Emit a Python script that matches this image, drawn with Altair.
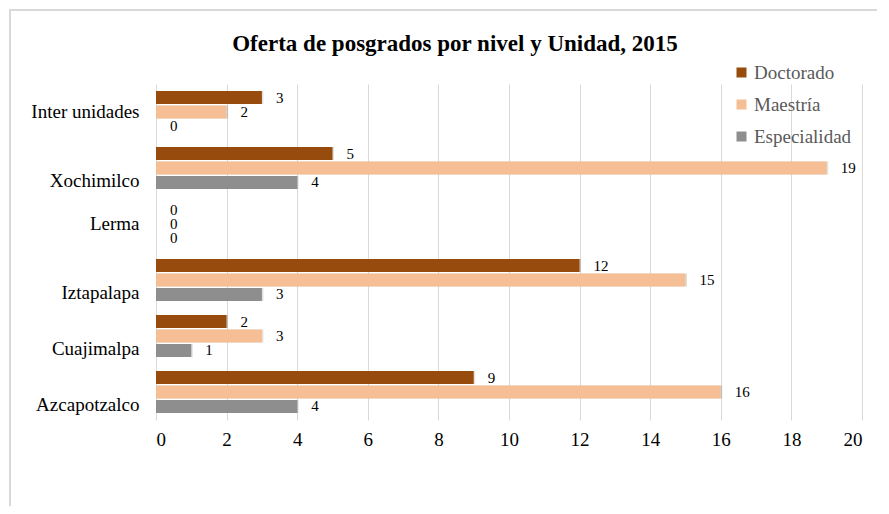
import altair as alt
import pandas as pd

unidades = ["Inter unidades", "Xochimilco", "Lerma", "Iztapalapa", "Cuajimalpa", "Azcapotzalco"]
niveles = ["Doctorado", "Maestría", "Especialidad"]
doctorado = [3, 5, 0, 12, 2, 9]
maestria = [2, 19, 0, 15, 3, 16]
especialidad = [0, 4, 0, 3, 1, 4]
colores = ["#974B0C", "#F5BE95", "#8E8E8E"]
x_ticks = list(range(0, 21, 2))
titulo = "Oferta de posgrados por nivel y Unidad, 2015"

rows = []
for i, u in enumerate(unidades):
    for n, vals in zip(niveles, [doctorado, maestria, especialidad]):
        rows.append({"Unidad": u, "Nivel": n, "Valor": vals[i]})
df = pd.DataFrame(rows)

FONT = "Liberation Serif"
W, H = 706, 336

y_enc = alt.Y(
    "Unidad:N",
    sort=unidades,
    scale=alt.Scale(paddingInner=0.25, paddingOuter=0.125),
    axis=alt.Axis(
        title=None,
        labelFontSize=19,
        labelColor="#000000",
        labelPadding=17,
        domain=False,
        ticks=False,
        labelOffset={
            "condition": {
                "test": "datum.value === 'Inter unidades' || datum.value === 'Lerma'",
                "value": 0,
            },
            "value": 13,
        },
    ),
)
yoff = alt.YOffset("Nivel:N", sort=niveles, scale=alt.Scale(paddingInner=0.1))
x_enc = alt.X(
    "Valor:Q",
    scale=alt.Scale(domain=[0, 20]),
    axis=alt.Axis(
        title=None,
        values=x_ticks,
        labelFontSize=19,
        labelColor="#000000",
        labelPadding=10,
        domain=False,
        ticks=False,
        grid=True,
        gridColor="#d9d9d9",
        gridWidth=1,
    ),
)

shadow = alt.Chart(df).mark_bar(
    color="#000000", opacity=0.12, xOffset=1.5, x2Offset=1.5
).encode(x=x_enc, y=y_enc, yOffset=yoff)

bars = alt.Chart(df).mark_bar().encode(
    x=x_enc,
    y=y_enc,
    yOffset=yoff,
    color=alt.Color(
        "Nivel:N",
        sort=niveles,
        scale=alt.Scale(domain=niveles, range=colores),
        legend=alt.Legend(
            title=None,
            orient="none",
            legendX=576,
            legendY=-21,
            symbolType="square",
            symbolSize=100,
            symbolStrokeWidth=0,
            labelFontSize=19,
            labelColor="#595959",
            labelOffset=3,
            rowPadding=12,
        ),
    ),
)

labels = alt.Chart(df).mark_text(
    align="left", baseline="middle", dx=14, fontSize=15, color="#000000"
).encode(x=x_enc, y=y_enc, yOffset=yoff, text="Valor:Q")

frame = alt.Chart(pd.DataFrame({"a": [0]})).mark_rect(
    filled=False, stroke="#d9d9d9", strokeWidth=2
).encode(
    x=alt.value(-146), x2=alt.value(900), y=alt.value(-74), y2=alt.value(600)
)

title_mark = alt.Chart(pd.DataFrame({"t": [titulo]})).mark_text(
    fontSize=23, fontWeight="bold", color="#000000",
    align="center", baseline="middle"
).encode(x=alt.value(299), y=alt.value(-40), text="t:N")

chart = (
    alt.layer(frame, shadow, bars, labels, title_mark)
    .properties(
        width=W,
        height=H,
        padding={"left": 148, "top": 76, "right": 15, "bottom": 86},
        autosize=alt.AutoSizeParams(type="none"),
    )
    .configure(background="white", font=FONT)
    .configure_view(stroke=None)
    .configure_axis(labelFont=FONT)
    .configure_legend(labelFont=FONT)
    .configure_text(font=FONT)
)

chart.save("out.html", embed_options={"renderer": "svg", "actions": False})
